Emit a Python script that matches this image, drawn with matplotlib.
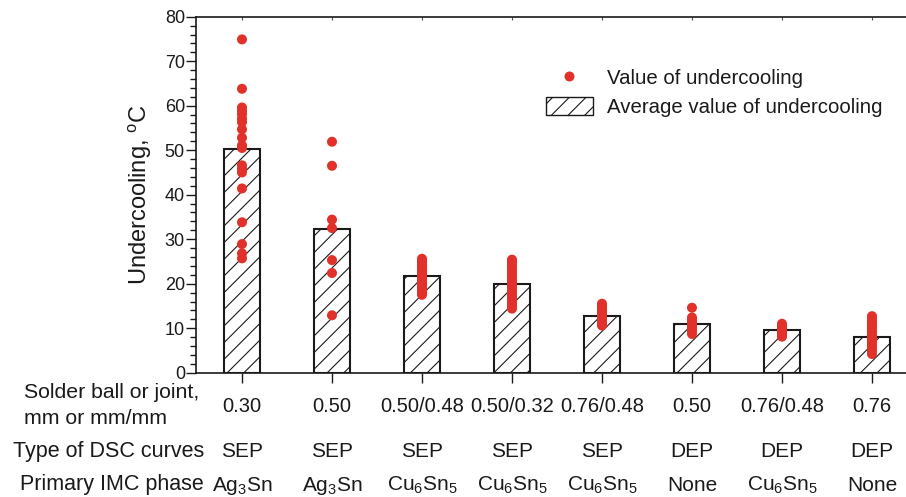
import matplotlib
matplotlib.use("Agg")
import matplotlib.pyplot as plt
import matplotlib.transforms as mtransforms
from matplotlib.lines import Line2D
from matplotlib.patches import Patch

plt.rcParams['font.family'] = ['Liberation Sans', 'DejaVu Sans']
plt.rcParams['mathtext.fontset'] = 'custom'
plt.rcParams['mathtext.rm'] = 'Liberation Sans'
plt.rcParams['mathtext.it'] = 'Liberation Sans:italic'
plt.rcParams['hatch.linewidth'] = 0.8

# ---- data ----
solder_sizes = ["0.30", "0.50", "0.50/0.48", "0.50/0.32", "0.76/0.48", "0.50", "0.76/0.48", "0.76"]
dsc_types = ["SEP", "SEP", "SEP", "SEP", "SEP", "DEP", "DEP", "DEP"]
imc_phases = ["Ag$_3$Sn", "Ag$_3$Sn", "Cu$_6$Sn$_5$", "Cu$_6$Sn$_5$", "Cu$_6$Sn$_5$",
              "None", "Cu$_6$Sn$_5$", "None"]
average_values = [50.2, 32.2, 21.8, 19.95, 12.8, 11.0, 9.56, 7.98]

values_g1 = [74.9, 63.8, 59.6, 58.8, 58.1, 57.1, 56.3, 54.7, 52.8, 51.1, 50.5,
             46.6, 45.8, 45.0, 41.4, 33.8, 28.9, 26.8, 25.7]
values_g2 = [51.9, 46.5, 34.4, 32.5, 25.3, 22.4, 12.9]
values_g3 = [25.6, 25.1, 24.6, 24.2, 23.7, 23.3, 22.8, 22.4, 21.9, 21.5, 21.0,
             20.6, 20.1, 19.7, 19.2, 18.8, 18.3, 17.9, 17.5]
values_g4 = [25.4, 24.8, 24.2, 23.7, 23.1, 22.5, 21.9, 21.4, 20.8, 20.2, 19.6,
             19.1, 18.5, 17.9, 17.3, 16.8, 16.2, 15.6, 15.0, 14.4]
values_g5 = [15.5, 15.0, 14.4, 13.9, 13.3, 12.8, 12.2, 11.7, 11.1, 10.6]
values_g6 = [14.6, 12.4, 11.9, 11.4, 10.9, 10.4, 9.8, 9.3, 8.7]
values_g7 = [11.0, 10.5, 10.0, 9.5, 9.1, 8.6, 8.1]
values_g8 = [12.7, 12.2, 11.6, 11.1, 10.5, 10.0, 9.4, 8.9, 8.3, 7.8, 7.2, 6.6,
             6.1, 5.5, 4.9, 4.2]
point_groups = [values_g1, values_g2, values_g3, values_g4,
                values_g5, values_g6, values_g7, values_g8]

red = '#e2312a'
txt = '#1a1a1a'

fig = plt.figure(figsize=(9.06, 4.97), dpi=100)
ax = fig.add_axes([196 / 906, 1 - 372.7 / 497, 1 - 196 / 906, (372.7 - 16.7) / 497])

x = list(range(len(average_values)))
ax.bar(x, average_values, width=0.41, facecolor='white', edgecolor='#1a1a1a',
       linewidth=1.5, hatch='//', zorder=2)
for i, grp in enumerate(point_groups):
    ax.scatter([i] * len(grp), grp, s=52, color=red, edgecolors='none', zorder=3)

ax.set_xlim(-0.511, 7.378)
ax.set_ylim(0, 80)
ax.set_yticks(range(0, 81, 10))
ax.set_yticks(range(0, 81, 2), minor=True)
ax.set_xticks(x)
ax.set_xticklabels([])
ax.tick_params(axis='y', which='major', length=7, width=1.0, labelsize=13,
               colors='#1a1a1a', pad=1)
ax.tick_params(axis='y', which='minor', length=4, width=1.0, colors='#1a1a1a')
ax.tick_params(axis='x', which='major', length=7, width=1.0, colors='#1a1a1a')
for s in ['left', 'bottom', 'top']:
    ax.spines[s].set_linewidth(1.2)
    ax.spines[s].set_color('#1a1a1a')
ax.spines['right'].set_visible(False)

sec = ax.secondary_xaxis('top')
sec.set_xticks(x)
sec.set_xticklabels([])
sec.tick_params(direction='in', length=2, width=0.8, colors='#555555')
sec.spines['top'].set_visible(False)

ax.set_ylabel("Undercooling, $^{\\mathrm{o}}$C", fontsize=17, color=txt, labelpad=8)

# legend
handles = [Line2D([], [], marker='o', linestyle='none', markersize=7.2,
                  markerfacecolor=red, markeredgecolor='none'),
           Patch(facecolor='white', edgecolor='#1a1a1a', hatch='//', linewidth=1.0)]
leg = ax.legend(handles, ["Value of undercooling", "Average value of undercooling"],
                loc='upper left', bbox_to_anchor=(546 / 906, 1 - 68.5 / 497),
                bbox_transform=fig.transFigure, frameon=False, fontsize=14.7,
                handlelength=2.3, handleheight=0.93, handletextpad=0.7,
                labelspacing=0.45, borderaxespad=0, borderpad=0)
for t in leg.get_texts():
    t.set_color(txt)

# bottom table
trans = mtransforms.blended_transform_factory(ax.transData, fig.transFigure)
fig.text(24 / 906, 1 - 397.5 / 497, "Solder ball or joint,", fontsize=15.3,
         ha='left', va='baseline', color=txt)
fig.text(24 / 906, 1 - 424.3 / 497, "mm or mm/mm", fontsize=15.3,
         ha='left', va='baseline', color=txt)
fig.text(204 / 906, 1 - 457.3 / 497, "Type of DSC curves", fontsize=15.5,
         ha='right', va='baseline', color=txt)
fig.text(204 / 906, 1 - 490 / 497, "Primary IMC phase", fontsize=15.5,
         ha='right', va='baseline', color=txt)
for i in x:
    ax.text(i, 1 - 412.3 / 497, solder_sizes[i], transform=trans, fontsize=14.5,
            ha='center', va='baseline', color=txt)
    ax.text(i, 1 - 457.3 / 497, dsc_types[i], transform=trans, fontsize=15,
            ha='center', va='baseline', color=txt)
    ax.text(i, 1 - 490.7 / 497, imc_phases[i], transform=trans, fontsize=15,
            ha='center', va='baseline', color=txt)

fig.savefig("out.png", dpi=100)
